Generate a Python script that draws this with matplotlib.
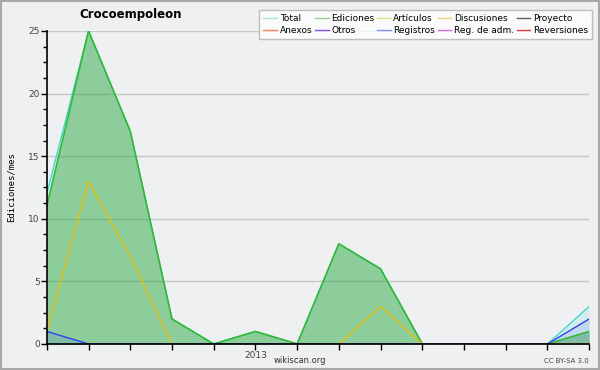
import matplotlib
matplotlib.use("Agg")
import matplotlib.pyplot as plt
from matplotlib.lines import Line2D
from matplotlib.ticker import MultipleLocator, AutoMinorLocator
import numpy as np

# monthly edit counts, Aug 2012 .. Sep 2013
months = ["2012-08", "2012-09", "2012-10", "2012-11", "2012-12", "2013-01", "2013-02",
          "2013-03", "2013-04", "2013-05", "2013-06", "2013-07", "2013-08", "2013-09"]
total = [12, 25, 17, 2, 0, 1, 0, 8, 6, 0, 0, 0, 0, 3]
ediciones = [11, 25, 17, 2, 0, 1, 0, 8, 6, 0, 0, 0, 0, 1]
discusiones = [1, 13, 7, 0, 0, 0, 0, 0, 3, 0, 0, 0, 0, 0]
registros = [1, 0, 0, 0, 0, 0, 0, 0, 0, 0, 0, 0, 0, 2]

legend_names = ["Total", "Anexos", "Ediciones", "Otros", "Artículos", "Registros",
                "Discusiones", "Reg. de adm.", "Proyecto", "Reversiones"]
legend_colors = ["#a8e4e0", "#f08a50", "#90cf90", "#8a50e0", "#c8ee80", "#8090f0",
                 "#f5d070", "#d070e0", "#606060", "#e03a3a"]

BG = "#eef0f1"

fig = plt.figure(figsize=(6, 3.7), dpi=100, facecolor=BG)
fig.patches.append(plt.Rectangle((0.002, 0.003), 0.996, 0.994, transform=fig.transFigure,
                                 fill=False, edgecolor="#a8a8a8", linewidth=1.5))
ax = fig.add_axes([0.078, 0.0703, 0.904, 0.846], facecolor=BG)

x = np.arange(len(months))
ax.fill_between(x, total, color="#40e0d0", alpha=0.15, linewidth=0)
ax.plot(x, total, color="#40d8d0", linewidth=1)
ax.fill_between(x, ediciones, color="#2ca02c", alpha=0.42, linewidth=0)
ax.plot(x, ediciones, color="#33b833", linewidth=1.2)
ax.plot(x, discusiones, color="#e8c010", linewidth=1)
ax.fill_between(x, registros, color="#3050ff", alpha=0.12, linewidth=0)
ax.plot(x, registros, color="#3040f0", linewidth=1)

ax.set_xlim(0, len(months) - 1)
ax.set_ylim(0, 25)
ax.yaxis.set_major_locator(MultipleLocator(5))
ax.yaxis.set_minor_locator(AutoMinorLocator(4))
ax.set_xticks(x)
ax.set_xticklabels(["2013" if m == "2013-01" else "" for m in months])
ax.tick_params(axis="both", which="major", direction="out", length=4, width=1,
               labelsize=6.5, colors="black", labelcolor="#444444", pad=1)
ax.tick_params(axis="y", which="minor", direction="out", length=3, width=1)
ax.grid(axis="y", color="#c8c8c8", linewidth=1)
ax.set_axisbelow(True)
for s in ("top", "right"):
    ax.spines[s].set_visible(False)
for s in ("left", "bottom"):
    ax.spines[s].set_linewidth(1.2)

ax.set_ylabel("Ediciones/mes", family="DejaVu Sans Mono", fontsize=6.5, labelpad=9)
fig.text(0.5, 0.027, "wikiscan.org", ha="center", va="center", fontsize=6, color="#333333")
fig.text(0.982, 0.025, "CC BY-SA 3.0", ha="right", va="center", fontsize=5, color="#444444")
fig.text(0.218, 0.962, "Crocoempoleon", ha="center", va="center", fontsize=8.5,
         fontweight="bold")

handles = [Line2D([], [], color=c, linewidth=1) for c in legend_colors]
leg = fig.legend(handles, legend_names, ncol=5, loc="upper right",
                 bbox_to_anchor=(0.987, 0.973), fontsize=6.5, frameon=True, fancybox=False,
                 handlelength=1.5, handletextpad=0.3, columnspacing=0.3, labelspacing=0.35,
                 borderpad=0.45, borderaxespad=0)
leg.get_frame().set_edgecolor("#b0b0b0")
leg.get_frame().set_facecolor("white")
leg.get_frame().set_linewidth(1)

fig.savefig("out.png", dpi=100, facecolor=BG)
